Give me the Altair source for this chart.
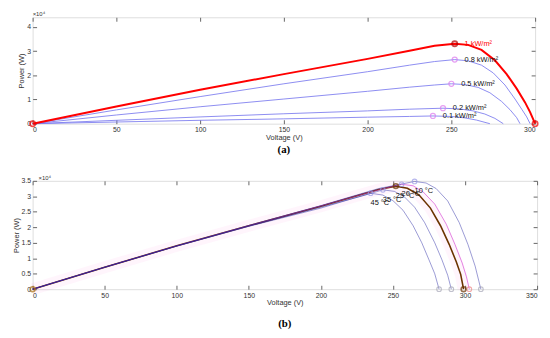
import altair as alt
import pandas as pd

# ---------------- Panel (a): irradiance curves ----------------
a_names = ["1 kW/m²", "0.8 kW/m²", "0.5 kW/m²", "0.2 kW/m²", "0.1 kW/m²"]
a_v_10 = [0, 50, 100, 150, 200, 225, 240, 252, 260, 268, 276, 283, 289, 294, 297, 300]
a_p_10 = [0, 7100, 14000, 20500, 26800, 30200, 32200, 33100, 32600, 30500, 26200, 20500, 14500, 8800, 4800, 0]
a_v_08 = [0, 50, 100, 150, 200, 225, 240, 252, 260, 268, 275, 282, 288, 292, 295, 297]
a_p_08 = [0, 5700, 11200, 16500, 21500, 24200, 25700, 26500, 26000, 24200, 21000, 16000, 10200, 6000, 2800, 0]
a_v_05 = [0, 50, 100, 150, 200, 225, 240, 250, 258, 266, 273, 280, 285, 289, 291]
a_p_05 = [0, 3600, 7000, 10200, 13400, 15100, 16000, 16500, 16200, 15000, 12800, 9200, 5800, 2500, 0]
a_v_02 = [0, 50, 100, 150, 200, 225, 245, 255, 263, 270, 276, 281]
a_p_02 = [0, 1400, 2800, 4100, 5300, 6000, 6400, 6100, 5300, 4000, 2200, 0]
a_v_01 = [0, 50, 100, 150, 200, 225, 239, 250, 258, 265, 273]
a_p_01 = [0, 700, 1400, 2000, 2700, 3000, 3200, 3000, 2400, 1500, 0]
a_mpp_v = [252, 252, 250, 245, 239]
a_mpp_p = [33100, 26500, 16500, 6400, 3200]
a_end_v = [0, 300]
a_end_p = [0, 0]

# ---------------- Panel (b): temperature curves ----------------
b_names = ["45 °C", "35 °C", "25 °C", "20 °C", "10 °C"]
b_v_45 = [0, 50, 100, 150, 200, 220, 234.5, 243, 250, 257, 264, 270, 275, 279, 282]
b_p_45 = [0, 7100, 13900, 20300, 26200, 29000, 31000, 30400, 28600, 25500, 20500, 15000, 9500, 5000, 0]
b_v_35 = [0, 50, 100, 150, 200, 230, 243, 251, 258, 265, 272, 279, 284, 288, 290.5]
b_p_35 = [0, 7100, 14000, 20400, 26500, 30300, 32100, 31600, 29800, 26500, 21500, 15000, 9500, 4500, 0]
b_v_25 = [0, 50, 100, 150, 200, 225, 240, 252, 260, 268, 276, 283, 289, 294, 297, 299]
b_p_25 = [0, 7100, 14000, 20500, 26800, 30200, 32200, 33300, 32600, 30500, 26200, 20500, 14500, 8800, 4800, 0]
b_v_20 = [0, 50, 100, 150, 200, 235, 256, 264, 271, 279, 287, 293, 298, 301, 303]
b_p_20 = [0, 7100, 14000, 20500, 26900, 31500, 33900, 33400, 31400, 27500, 21000, 14500, 8500, 4000, 0]
b_v_10 = [0, 50, 100, 150, 200, 240, 265, 273, 280, 288, 296, 302, 307, 311]
b_p_10 = [0, 7100, 14000, 20600, 27000, 32500, 34800, 34300, 32500, 28500, 21500, 14500, 7500, 0]
b_mpp_v = [234.5, 243, 252, 256, 265]
b_mpp_p = [31000, 32100, 33300, 33900, 34800]
b_voc_v = [282, 290.5, 299, 303, 311]

FONT = "Liberation Sans"


def long_df(names, vs, ps):
    rows = []
    for n, v, p in zip(names, vs, ps):
        for i, (vv, pp) in enumerate(zip(v, p)):
            rows.append({"curve": n, "i": i, "V": vv, "P": pp})
    return pd.DataFrame(rows)


a_df = long_df(a_names, [a_v_10, a_v_08, a_v_05, a_v_02, a_v_01],
               [a_p_10, a_p_08, a_p_05, a_p_02, a_p_01])
a_mpp = pd.DataFrame({"curve": a_names, "V": a_mpp_v, "P": a_mpp_p})
a_end = pd.DataFrame({"V": a_end_v, "P": a_end_p})

b_df = long_df(b_names, [b_v_45, b_v_35, b_v_25, b_v_20, b_v_10],
               [b_p_45, b_p_35, b_p_25, b_p_20, b_p_10])
b_mpp = pd.DataFrame({"curve": b_names, "V": b_mpp_v, "P": b_mpp_p})
b_voc = pd.DataFrame({"curve": b_names, "V": b_voc_v, "P": [0] * 5})

XN = alt.X("V:Q", axis=None)
YN = alt.Y("P:Q", axis=None)


def frames(data, xdom, xticks, ydom, yticks):
    common = dict(grid=False, domain=False, tickSize=4, offset=-4, tickColor="#666",
                  minExtent=0, maxExtent=40)
    x_main = alt.X("V:Q", scale=alt.Scale(domain=xdom, nice=False, zero=False),
                   axis=alt.Axis(values=xticks, title="Voltage (V)", labelPadding=2,
                                 labelFontSize=7, titleFontSize=7.5, labelFont=FONT, titleFont=FONT,
                                 titleFontWeight="normal", labelColor="#333", titleColor="#333",
                                 titlePadding=1, **common))
    y_main = alt.Y("P:Q", scale=alt.Scale(domain=ydom, nice=False, zero=False),
                   axis=alt.Axis(values=yticks, title="Power (W)", labelPadding=2,
                                 labelExpr="datum.value / 10000",
                                 labelFontSize=7, titleFontSize=7.5, labelFont=FONT, titleFont=FONT,
                                 titleFontWeight="normal", labelColor="#333", titleColor="#333",
                                 titlePadding=1, **common))
    x_top = alt.X("V:Q", axis=alt.Axis(values=xticks, orient="top", labels=False, title=None,
                                       labelPadding=0, **common))
    y_right = alt.Y("P:Q", axis=alt.Axis(values=yticks, orient="right", labels=False, title=None,
                                         labelPadding=0, **common))
    f1 = alt.Chart(data).mark_point(opacity=0, size=1).encode(x=x_main, y=y_main)
    f2 = alt.Chart(data).mark_point(opacity=0, size=1).encode(x=x_top, y=y_right)
    return f1, f2


# ---------- build panel (a) ----------
a_f1, a_f2 = frames(a_end, [0, 300], [0, 50, 100, 150, 200, 250, 300], [0, 44000],
                    [0, 10000, 20000, 30000, 40000])

a_blue = alt.Chart(a_df).transform_filter(alt.datum.curve != "1 kW/m²").mark_line(
    color="#7878ee", strokeWidth=1, opacity=0.85).encode(
    x=XN, y=YN, detail="curve:N", order="i:Q")
a_red = alt.Chart(a_df).transform_filter(alt.datum.curve == "1 kW/m²").mark_line(
    color="#ff0000", strokeWidth=2).encode(x=XN, y=YN, order="i:Q")
a_mpp_pts = alt.Chart(a_mpp).transform_filter(alt.datum.curve != "1 kW/m²").mark_point(
    shape="circle", size=26, color="#dd77ee", strokeWidth=1.2, filled=False).encode(x=XN, y=YN)
a_mpp_red = alt.Chart(a_mpp).transform_filter(alt.datum.curve == "1 kW/m²").mark_point(
    shape="circle", size=28, color="#b00000", strokeWidth=1.8, filled=False).encode(x=XN, y=YN)
a_end_pts = alt.Chart(a_end).mark_point(shape="circle", size=28, color="#ee0000",
                                        strokeWidth=1.8, filled=False).encode(x=XN, y=YN)
a_lbl = alt.Chart(a_mpp).mark_text(align="left", baseline="middle", dx=10, fontSize=7.5,
                                   font=FONT).encode(
    x=XN, y=YN, text="curve:N",
    color=alt.condition(alt.datum.curve == "1 kW/m²", alt.value("#ff0000"), alt.value("#111")))
a_exp = alt.Chart(a_end).transform_filter(alt.datum.V == 0).mark_text(
    text="×10⁴", align="left", baseline="bottom", fontSize=6, font=FONT, color="#333",
    dy=0).encode(x=alt.value(0), y=alt.value(0))

panel_a = alt.layer(a_f1, a_f2, a_blue, a_red, a_mpp_pts, a_mpp_red, a_end_pts, a_lbl, a_exp).resolve_axis(
    x="independent", y="independent").properties(
    width=510, height=108,
    title=alt.TitleParams("(a)", orient="bottom", font="Liberation Serif", fontSize=11,
                          fontWeight="bold", color="#000", offset=3))

# ---------- build panel (b) ----------
b_f1, b_f2 = frames(a_end, [0, 350], [0, 50, 100, 150, 200, 250, 300, 350], [0, 35000],
                    [0, 5000, 10000, 15000, 20000, 25000, 30000, 35000])

b_glow = alt.Chart(b_df).transform_filter(alt.datum.curve == "25 °C").mark_line(
    color="#ff44cc", strokeWidth=12, opacity=0.05).encode(x=XN, y=YN, order="i:Q")
b_brown = alt.Chart(b_df).transform_filter(alt.datum.curve == "25 °C").mark_line(
    color="#6b3300", strokeWidth=1.6).encode(x=XN, y=YN, order="i:Q")
b_pink = alt.Chart(b_df).transform_filter(alt.datum.curve == "20 °C").mark_line(
    color="#cc22cc", strokeWidth=1, opacity=0.55).encode(x=XN, y=YN, order="i:Q")
b_purple = alt.Chart(b_df).transform_filter(
    (alt.datum.curve != "25 °C") & (alt.datum.curve != "20 °C")).mark_line(
    color="#2020a0", strokeWidth=1, opacity=0.45).encode(x=XN, y=YN, detail="curve:N", order="i:Q")
b_mpp_pts = alt.Chart(b_mpp).transform_filter(alt.datum.curve != "25 °C").mark_point(
    shape="circle", size=22, color="#9a9ae6", strokeWidth=1.1, filled=False).encode(x=XN, y=YN)
b_mpp_br = alt.Chart(b_mpp).transform_filter(alt.datum.curve == "25 °C").mark_point(
    shape="circle", size=24, color="#6b3300", strokeWidth=1.6, filled=False).encode(x=XN, y=YN)
b_voc_pts = alt.Chart(b_voc).transform_filter(
    (alt.datum.curve != "25 °C") & (alt.datum.curve != "20 °C")).mark_point(
    shape="circle", size=22, color="#a8a8b8", strokeWidth=1.1, filled=False).encode(x=XN, y=YN)
b_voc_pk = alt.Chart(b_voc).transform_filter(alt.datum.curve == "20 °C").mark_point(
    shape="circle", size=22, color="#ee8888", strokeWidth=1.1, filled=False).encode(x=XN, y=YN)
b_voc_br = alt.Chart(b_voc).transform_filter(alt.datum.curve == "25 °C").mark_point(
    shape="circle", size=24, color="#6b3300", strokeWidth=1.6, filled=False).encode(x=XN, y=YN)
b_origin = alt.Chart(a_end).transform_filter(alt.datum.V == 0).mark_point(
    shape="circle", size=24, color="#b07010", strokeWidth=1.6, filled=False).encode(x=XN, y=YN)
b_lbl = alt.Chart(b_mpp).mark_text(align="left", baseline="middle", dy=10, fontSize=7.5,
                                   font=FONT, color="#111").encode(x=XN, y=YN, text="curve:N")
b_exp = alt.Chart(a_end).transform_filter(alt.datum.V == 0).mark_text(
    text="×10⁴", align="left", baseline="bottom", fontSize=6, font=FONT, color="#333",
    dy=0).encode(x=alt.value(6), y=alt.value(0))

panel_b = alt.layer(b_f1, b_f2, b_glow, b_brown, b_pink, b_purple, b_mpp_pts, b_mpp_br, b_voc_pts,
                    b_voc_pk, b_voc_br, b_origin, b_lbl, b_exp).resolve_axis(
    x="independent", y="independent").properties(
    width=512, height=110,
    title=alt.TitleParams("(b)", orient="bottom", font="Liberation Serif", fontSize=11,
                          fontWeight="bold", color="#000", offset=5))

chart = alt.vconcat(panel_a, panel_b, spacing=6).properties(
    padding={"left": 0, "top": 0, "right": 0, "bottom": 0}
).configure_view(stroke="#aaaaaa", strokeWidth=1).configure(background="white")

chart.save("out.html", embed_options={"renderer": "svg", "actions": False})
